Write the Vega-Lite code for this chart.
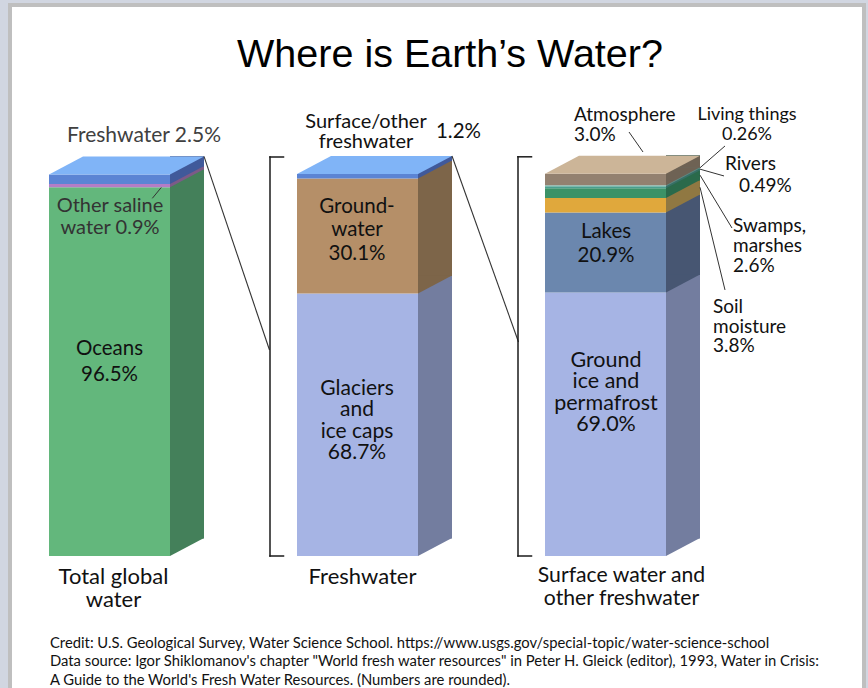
{
  "$schema": "https://vega.github.io/schema/vega-lite/v6.json",
  "autosize": {"type": "none"},
  "width": 854,
  "height": 683,
  "padding": {"left": 10, "top": 5, "right": 4, "bottom": 0},
  "background": "#d1d6e1",
  "title": {
    "text": "Where is Earth’s Water?",
    "font": "Liberation Sans",
    "fontSize": 39.5,
    "fontWeight": "normal",
    "color": "#000000",
    "anchor": "middle",
    "frame": "group",
    "orient": "top",
    "offset": 0,
    "baseline": "alphabetic",
    "dx": 13,
    "dy": 101
  },
  "data": {
    "values": [
      {"bar": "Total global water", "layer": "Oceans", "pct": 96.5},
      {"bar": "Total global water", "layer": "Other saline water", "pct": 0.9},
      {"bar": "Total global water", "layer": "Freshwater", "pct": 2.5},
      {"bar": "Freshwater", "layer": "Glaciers and ice caps", "pct": 68.7},
      {"bar": "Freshwater", "layer": "Groundwater", "pct": 30.1},
      {"bar": "Freshwater", "layer": "Surface/other freshwater", "pct": 1.2},
      {"bar": "Surface water and other freshwater", "layer": "Ground ice and permafrost", "pct": 69.0},
      {"bar": "Surface water and other freshwater", "layer": "Lakes", "pct": 20.9},
      {"bar": "Surface water and other freshwater", "layer": "Soil moisture", "pct": 3.8},
      {"bar": "Surface water and other freshwater", "layer": "Swamps, marshes", "pct": 2.6},
      {"bar": "Surface water and other freshwater", "layer": "Rivers", "pct": 0.49},
      {"bar": "Surface water and other freshwater", "layer": "Living things", "pct": 0.26},
      {"bar": "Surface water and other freshwater", "layer": "Atmosphere", "pct": 3.0}
    ]
  },
  "transform": [
    {"window": [{"op": "row_number", "as": "k"}], "groupby": ["bar"]},
    {"stack": "pct", "groupby": ["bar"], "sort": [{"field": "k", "order": "ascending"}], "as": ["lo", "hi"]},
    {"joinaggregate": [{"op": "sum", "field": "pct", "as": "total"}, {"op": "count", "as": "n"}], "groupby": ["bar"]}
  ],
  "resolve": {"scale": {"color": "independent"}},
  "layer": [
    {
      "mark": {"type": "bar", "width": 121},
      "encoding": {
        "x": {"field": "bar", "type": "nominal", "axis": null,
              "scale": {"type": "point", "domain": ["Total global water", "Freshwater", "Surface water and other freshwater"], "range": [99.5, 595.5], "padding": 0}},
        "y": {"field": "lo", "type": "quantitative", "axis": null,
              "scale": {"domain": [0, 100], "range": [551, 169], "nice": false, "zero": false}},
        "y2": {"field": "hi"},
        "color": {"field": "layer", "type": "nominal", "legend": null,
          "scale": {
            "domain": ["Oceans", "Other saline water", "Freshwater", "Glaciers and ice caps", "Groundwater", "Surface/other freshwater", "Ground ice and permafrost", "Lakes", "Soil moisture", "Swamps, marshes", "Rivers", "Living things", "Atmosphere"],
            "range": ["#63b77c", "#b47cc6", "#5b84d4", "#a6b4e4", "#b58f68", "#5b84d4", "#a6b4e4", "#6b87ae", "#e0a83c", "#3b9267", "#4c9f8f", "#86c2b8", "#938170"]
          }}
      }
    },
    {
      "mark": {"type": "bar", "width": 34, "xOffset": 77.5, "yOffset": -18, "y2Offset": -17.5},
      "encoding": {
        "x": {"field": "bar", "type": "nominal", "axis": null},
        "y": {"field": "total", "type": "quantitative", "axis": null},
        "y2": {"field": "lo"},
        "color": {"field": "layer", "type": "nominal", "legend": null,
          "scale": {
            "domain": ["Oceans", "Other saline water", "Freshwater", "Glaciers and ice caps", "Groundwater", "Surface/other freshwater", "Ground ice and permafrost", "Lakes", "Soil moisture", "Swamps, marshes", "Rivers", "Living things", "Atmosphere"],
            "range": ["#44805a", "#7c5a88", "#40599a", "#737d9f", "#7d6549", "#40599a", "#737d9f", "#475672", "#907842", "#2a6a4b", "#376f66", "#5e8a84", "#6e6254"]
          }}
      }
    },
    {
      "mark": {"type": "point", "shape": "M60.5,-18L60.5,0L94.5,-18Z", "size": 4, "filled": true, "opacity": 1, "strokeWidth": 0},
      "encoding": {
        "x": {"field": "bar", "type": "nominal", "axis": null},
        "y": {"field": "lo", "type": "quantitative", "axis": null},
        "color": {"field": "layer", "type": "nominal", "legend": null,
          "scale": {
            "domain": ["Oceans", "Other saline water", "Freshwater", "Glaciers and ice caps", "Groundwater", "Surface/other freshwater", "Ground ice and permafrost", "Lakes", "Soil moisture", "Swamps, marshes", "Rivers", "Living things", "Atmosphere"],
            "range": ["#44805a", "#7c5a88", "#40599a", "#737d9f", "#7d6549", "#40599a", "#737d9f", "#475672", "#907842", "#2a6a4b", "#376f66", "#5e8a84", "#6e6254"]
          }}
      }
    },
    {
      "transform": [{"filter": "datum.k == datum.n"}],
      "mark": {"type": "point", "shape": "M-60.5,0L60.5,0L94.5,-18L-26.5,-18Z", "size": 4, "filled": true, "opacity": 1, "strokeWidth": 0},
      "encoding": {
        "x": {"field": "bar", "type": "nominal", "axis": null},
        "y": {"field": "hi", "type": "quantitative", "axis": null},
        "color": {"field": "layer", "type": "nominal", "legend": null,
          "scale": {"domain": ["Freshwater", "Surface/other freshwater", "Atmosphere"], "range": ["#80b4f7", "#80b4f7", "#ccb598"]}}
      }
    },
    {
      "transform": [{"filter": "datum.bar == 'Total global water' && datum.k == datum.n"}],
      "mark": {"type": "rule", "color": "#333333", "strokeWidth": 1.1, "xOffset": 94.5, "yOffset": -18, "x2Offset": -88, "y2Offset": 175.6},
      "encoding": {
        "x": {"field": "bar", "type": "nominal", "axis": null},
        "x2": {"datum": "Freshwater"},
        "y": {"field": "hi", "type": "quantitative", "axis": null},
        "y2": {"field": "hi"}
      }
    },
    {
      "transform": [{"filter": "datum.bar == 'Freshwater' && datum.k == datum.n"}],
      "mark": {"type": "rule", "color": "#333333", "strokeWidth": 1.1, "xOffset": 94.5, "yOffset": -18, "x2Offset": -87, "y2Offset": 168},
      "encoding": {
        "x": {"field": "bar", "type": "nominal", "axis": null},
        "x2": {"datum": "Surface water and other freshwater"},
        "y": {"field": "hi", "type": "quantitative", "axis": null},
        "y2": {"field": "hi"}
      }
    },
    {
      "transform": [{"filter": "datum.k == 1 && datum.bar != 'Total global water'"}],
      "mark": {"type": "rule", "color": "#1a1a1a", "strokeWidth": 1.5, "strokeCap": "square", "xOffset": -87.5, "y2Offset": -17},
      "encoding": {
        "x": {"field": "bar", "type": "nominal", "axis": null},
        "y": {"field": "lo", "type": "quantitative", "axis": null},
        "y2": {"field": "total"}
      }
    },
    {
      "transform": [{"filter": "datum.k == 1 && datum.bar != 'Total global water'"}],
      "mark": {"type": "rule", "color": "#1a1a1a", "strokeWidth": 1.5, "strokeCap": "square", "xOffset": -87.5, "x2Offset": -74, "yOffset": -17},
      "encoding": {
        "x": {"field": "bar", "type": "nominal", "axis": null},
        "x2": {"field": "bar"},
        "y": {"field": "total", "type": "quantitative", "axis": null}
      }
    },
    {
      "transform": [{"filter": "datum.k == 1 && datum.bar != 'Total global water'"}],
      "mark": {"type": "rule", "color": "#1a1a1a", "strokeWidth": 1.5, "strokeCap": "square", "xOffset": -87.5, "x2Offset": -74},
      "encoding": {
        "x": {"field": "bar", "type": "nominal", "axis": null},
        "x2": {"field": "bar"},
        "y": {"field": "lo", "type": "quantitative", "axis": null}
      }
    },
    {
      "transform": [{"filter": "datum.layer == 'Other saline water'"}],
      "mark": {"type": "rule", "color": "#333333", "strokeWidth": 1, "xOffset": 42.8, "yOffset": 14.4, "x2Offset": 51.8, "y2Offset": 3.5},
      "encoding": {
        "x": {"field": "bar", "type": "nominal", "axis": null}, "x2": {"field": "bar"},
        "y": {"field": "hi", "type": "quantitative", "axis": null}, "y2": {"field": "hi"}
      }
    },
    {
      "transform": [{"filter": "datum.layer == 'Atmosphere'"}],
      "mark": {"type": "rule", "color": "#333333", "strokeWidth": 1, "xOffset": 23.5, "yOffset": -41.8, "x2Offset": 37.5, "y2Offset": -21.8},
      "encoding": {
        "x": {"field": "bar", "type": "nominal", "axis": null}, "x2": {"field": "bar"},
        "y": {"field": "hi", "type": "quantitative", "axis": null}, "y2": {"field": "hi"}
      }
    },
    {
      "transform": [{"filter": "datum.layer == 'Living things'"}],
      "mark": {"type": "rule", "color": "#333333", "strokeWidth": 1, "xOffset": 94.5, "yOffset": -17.5, "x2Offset": 119.5, "y2Offset": -39.3},
      "encoding": {
        "x": {"field": "bar", "type": "nominal", "axis": null}, "x2": {"field": "bar"},
        "y": {"field": "hi", "type": "quantitative", "axis": null}, "y2": {"field": "hi"}
      }
    },
    {
      "transform": [{"filter": "datum.layer == 'Rivers'"}],
      "mark": {"type": "rule", "color": "#333333", "strokeWidth": 1, "xOffset": 94.5, "yOffset": -17.1, "x2Offset": 118.5, "y2Offset": -10.3},
      "encoding": {
        "x": {"field": "bar", "type": "nominal", "axis": null}, "x2": {"field": "bar"},
        "y": {"field": "hi", "type": "quantitative", "axis": null}, "y2": {"field": "hi"}
      }
    },
    {
      "transform": [{"filter": "datum.layer == 'Swamps, marshes'"}],
      "mark": {"type": "rule", "color": "#333333", "strokeWidth": 1, "xOffset": 94.5, "yOffset": -13, "x2Offset": 126.5, "y2Offset": 39.9},
      "encoding": {
        "x": {"field": "bar", "type": "nominal", "axis": null}, "x2": {"field": "bar"},
        "y": {"field": "hi", "type": "quantitative", "axis": null}, "y2": {"field": "hi"}
      }
    },
    {
      "transform": [{"filter": "datum.layer == 'Soil moisture'"}],
      "mark": {"type": "rule", "color": "#333333", "strokeWidth": 1, "xOffset": 94.5, "yOffset": -10.8, "x2Offset": 119.5, "y2Offset": 91.9},
      "encoding": {
        "x": {"field": "bar", "type": "nominal", "axis": null}, "x2": {"field": "bar"},
        "y": {"field": "hi", "type": "quantitative", "axis": null}, "y2": {"field": "hi"}
      }
    },
    {
      "transform": [
        {"filter": "datum.layer == 'Freshwater'"},
        {"calculate": "datum.layer + ' ' + format(datum.pct, '.1f') + '%'", "as": "txt"}
      ],
      "mark": {"type": "text", "font": "Lato", "fontSize": 21, "color": "#404040", "align": "center", "baseline": "middle", "dx": 34.5, "dy": -38.4},
      "encoding": {
        "x": {"field": "bar", "type": "nominal", "axis": null},
        "y": {"field": "hi", "type": "quantitative", "axis": null},
        "text": {"field": "txt"}
      }
    },
    {
      "transform": [
        {"filter": "datum.layer == 'Other saline water'"},
        {"calculate": "['Other saline', 'water ' + format(datum.pct, '.1f') + '%']", "as": "txt"}
      ],
      "mark": {"type": "text", "font": "Lato", "fontSize": 20, "lineHeight": 22, "color": "#333333", "align": "center", "baseline": "middle", "dx": 0.5, "dy": 22.1},
      "encoding": {
        "x": {"field": "bar", "type": "nominal", "axis": null},
        "y": {"field": "hi", "type": "quantitative", "axis": null},
        "text": {"field": "txt"}
      }
    },
    {
      "transform": [
        {"filter": "datum.layer == 'Oceans'"},
        {"calculate": "[datum.layer, format(datum.pct, '.1f') + '%']", "as": "txt"}
      ],
      "mark": {"type": "text", "font": "Lato", "fontSize": 20.5, "lineHeight": 26, "color": "#111111", "align": "center", "baseline": "middle", "dx": 0, "dy": 161.6},
      "encoding": {
        "x": {"field": "bar", "type": "nominal", "axis": null},
        "y": {"field": "hi", "type": "quantitative", "axis": null},
        "text": {"field": "txt"}
      }
    },
    {
      "transform": [
        {"filter": "datum.layer == 'Surface/other freshwater'"},
        {"calculate": "['Surface/other', 'freshwater']", "as": "txt"}
      ],
      "mark": {"type": "text", "font": "Lato", "fontSize": 20, "lineHeight": 20, "color": "#111111", "align": "center", "baseline": "middle", "dx": 8.5, "dy": -52},
      "encoding": {
        "x": {"field": "bar", "type": "nominal", "axis": null},
        "y": {"field": "hi", "type": "quantitative", "axis": null},
        "text": {"field": "txt"}
      }
    },
    {
      "transform": [
        {"filter": "datum.layer == 'Surface/other freshwater'"},
        {"calculate": "format(datum.pct, '.1f') + '%'", "as": "txt"}
      ],
      "mark": {"type": "text", "font": "Lato", "fontSize": 20.5, "color": "#111111", "align": "center", "baseline": "middle", "dx": 101, "dy": -42},
      "encoding": {
        "x": {"field": "bar", "type": "nominal", "axis": null},
        "y": {"field": "hi", "type": "quantitative", "axis": null},
        "text": {"field": "txt"}
      }
    },
    {
      "transform": [
        {"filter": "datum.layer == 'Groundwater'"},
        {"calculate": "['Ground-', 'water', format(datum.pct, '.1f') + '%']", "as": "txt"}
      ],
      "mark": {"type": "text", "font": "Lato", "fontSize": 20.5, "lineHeight": 23.5, "color": "#111111", "align": "center", "baseline": "middle", "dx": -0.5, "dy": 28.4},
      "encoding": {
        "x": {"field": "bar", "type": "nominal", "axis": null},
        "y": {"field": "hi", "type": "quantitative", "axis": null},
        "text": {"field": "txt"}
      }
    },
    {
      "transform": [
        {"filter": "datum.layer == 'Glaciers and ice caps'"},
        {"calculate": "['Glaciers', 'and', 'ice caps', format(datum.pct, '.1f') + '%']", "as": "txt"}
      ],
      "mark": {"type": "text", "font": "Lato", "fontSize": 21, "lineHeight": 21.3, "color": "#111111", "align": "center", "baseline": "middle", "dx": -0.5, "dy": 95.4},
      "encoding": {
        "x": {"field": "bar", "type": "nominal", "axis": null},
        "y": {"field": "hi", "type": "quantitative", "axis": null},
        "text": {"field": "txt"}
      }
    },
    {
      "transform": [
        {"filter": "datum.layer == 'Atmosphere'"},
        {"calculate": "[datum.layer, format(datum.pct, '.1f') + '%']", "as": "txt"}
      ],
      "mark": {"type": "text", "font": "Lato", "fontSize": 19, "lineHeight": 20, "color": "#111111", "align": "left", "baseline": "middle", "dx": -31.5, "dy": -58.8},
      "encoding": {
        "x": {"field": "bar", "type": "nominal", "axis": null},
        "y": {"field": "hi", "type": "quantitative", "axis": null},
        "text": {"field": "txt"}
      }
    },
    {
      "transform": [
        {"filter": "datum.layer == 'Living things'"},
        {"calculate": "[datum.layer, format(datum.pct, '.2f') + '%']", "as": "txt"}
      ],
      "mark": {"type": "text", "font": "Lato", "fontSize": 18, "lineHeight": 20, "color": "#111111", "align": "center", "baseline": "middle", "dx": 141.5, "dy": -70.3},
      "encoding": {
        "x": {"field": "bar", "type": "nominal", "axis": null},
        "y": {"field": "hi", "type": "quantitative", "axis": null},
        "text": {"field": "txt"}
      }
    },
    {
      "transform": [{"filter": "datum.layer == 'Rivers'"}],
      "mark": {"type": "text", "font": "Lato", "fontSize": 19, "color": "#111111", "align": "left", "baseline": "middle", "dx": 119.5, "dy": -22.3},
      "encoding": {
        "x": {"field": "bar", "type": "nominal", "axis": null},
        "y": {"field": "hi", "type": "quantitative", "axis": null},
        "text": {"field": "layer"}
      }
    },
    {
      "transform": [
        {"filter": "datum.layer == 'Rivers'"},
        {"calculate": "format(datum.pct, '.2f') + '%'", "as": "txt"}
      ],
      "mark": {"type": "text", "font": "Lato", "fontSize": 19, "color": "#111111", "align": "left", "baseline": "middle", "dx": 133.5, "dy": -0.3},
      "encoding": {
        "x": {"field": "bar", "type": "nominal", "axis": null},
        "y": {"field": "hi", "type": "quantitative", "axis": null},
        "text": {"field": "txt"}
      }
    },
    {
      "transform": [
        {"filter": "datum.layer == 'Swamps, marshes'"},
        {"calculate": "['Swamps,', 'marshes', format(datum.pct, '.1f') + '%']", "as": "txt"}
      ],
      "mark": {"type": "text", "font": "Lato", "fontSize": 19, "lineHeight": 20, "color": "#111111", "align": "left", "baseline": "middle", "dx": 127.5, "dy": 37.9},
      "encoding": {
        "x": {"field": "bar", "type": "nominal", "axis": null},
        "y": {"field": "hi", "type": "quantitative", "axis": null},
        "text": {"field": "txt"}
      }
    },
    {
      "transform": [
        {"filter": "datum.layer == 'Soil moisture'"},
        {"calculate": "['Soil', 'moisture', format(datum.pct, '.1f') + '%']", "as": "txt"}
      ],
      "mark": {"type": "text", "font": "Lato", "fontSize": 19, "lineHeight": 19.7, "color": "#111111", "align": "left", "baseline": "middle", "dx": 107.5, "dy": 108.9},
      "encoding": {
        "x": {"field": "bar", "type": "nominal", "axis": null},
        "y": {"field": "hi", "type": "quantitative", "axis": null},
        "text": {"field": "txt"}
      }
    },
    {
      "transform": [
        {"filter": "datum.layer == 'Lakes'"},
        {"calculate": "[datum.layer, format(datum.pct, '.1f') + '%']", "as": "txt"}
      ],
      "mark": {"type": "text", "font": "Lato", "fontSize": 20.5, "lineHeight": 24, "color": "#111111", "align": "center", "baseline": "middle", "dx": 0.5, "dy": 19.4},
      "encoding": {
        "x": {"field": "bar", "type": "nominal", "axis": null},
        "y": {"field": "hi", "type": "quantitative", "axis": null},
        "text": {"field": "txt"}
      }
    },
    {
      "transform": [
        {"filter": "datum.layer == 'Ground ice and permafrost'"},
        {"calculate": "['Ground', 'ice and', 'permafrost', format(datum.pct, '.1f') + '%']", "as": "txt"}
      ],
      "mark": {"type": "text", "font": "Lato", "fontSize": 21.5, "lineHeight": 21.3, "color": "#111111", "align": "center", "baseline": "middle", "dx": 0.5, "dy": 68.6},
      "encoding": {
        "x": {"field": "bar", "type": "nominal", "axis": null},
        "y": {"field": "hi", "type": "quantitative", "axis": null},
        "text": {"field": "txt"}
      }
    },
    {
      "transform": [{"filter": "datum.k == 1 && datum.bar == 'Total global water'"}],
      "mark": {"type": "text", "font": "Lato", "fontSize": 22, "lineHeight": 22.5, "color": "#111111", "align": "center", "baseline": "middle", "dx": 4, "dy": 21, "text": ["Total global", "water"]},
      "encoding": {
        "x": {"field": "bar", "type": "nominal", "axis": null},
        "y": {"field": "lo", "type": "quantitative", "axis": null}
      }
    },
    {
      "transform": [{"filter": "datum.k == 1 && datum.bar == 'Freshwater'"}],
      "mark": {"type": "text", "font": "Lato", "fontSize": 22, "color": "#111111", "align": "center", "baseline": "middle", "dx": 5, "dy": 21},
      "encoding": {
        "x": {"field": "bar", "type": "nominal", "axis": null},
        "y": {"field": "lo", "type": "quantitative", "axis": null},
        "text": {"field": "bar"}
      }
    },
    {
      "transform": [{"filter": "datum.k == 1 && datum.bar == 'Surface water and other freshwater'"}],
      "mark": {"type": "text", "font": "Lato", "fontSize": 21.2, "lineHeight": 23, "color": "#111111", "align": "center", "baseline": "middle", "dx": 16, "dy": 20, "text": ["Surface water and", "other freshwater"]},
      "encoding": {
        "x": {"field": "bar", "type": "nominal", "axis": null},
        "y": {"field": "lo", "type": "quantitative", "axis": null}
      }
    },
    {
      "transform": [{"filter": "datum.k == 1 && datum.bar == 'Total global water'"}],
      "mark": {"type": "text", "font": "Lato", "fontSize": 14.8, "lineHeight": 18.3, "color": "#111111", "align": "left", "baseline": "middle", "dx": -59.5, "dy": 88,
        "text": [
          "Credit: U.S. Geological Survey, Water Science School. https://www.usgs.gov/special-topic/water-science-school",
          "Data source: Igor Shiklomanov's chapter \"World fresh water resources\" in Peter H. Gleick (editor), 1993, Water in Crisis:",
          "A Guide to the World's Fresh Water Resources. (Numbers are rounded)."
        ]},
      "encoding": {
        "x": {"field": "bar", "type": "nominal", "axis": null},
        "y": {"field": "lo", "type": "quantitative", "axis": null}
      }
    }
  ],
  "config": {
    "view": {"fill": "#ffffff", "stroke": "#bfbfbf", "strokeWidth": 4, "strokeCap": "square", "strokeDash": [1537, 854, 683, 0]}
  }
}
